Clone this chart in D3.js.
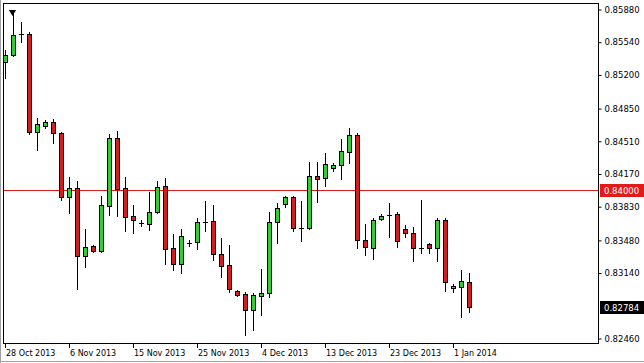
<!DOCTYPE html>
<html>
<head>
<meta charset="utf-8">
<script src="https://cdn.jsdelivr.net/npm/d3@7"></script>
<style>
html, body { margin: 0; padding: 0; background: #fff; }
svg { display: block; font-family: "DejaVu Sans", sans-serif; }
</style>
</head>
<body>
<div id="chart"></div>
<script>
// daily EUR/GBP-style candles
const dates = [
  '2013-10-28','2013-10-29','2013-10-30','2013-10-31','2013-11-01','2013-11-03','2013-11-04','2013-11-05',
  '2013-11-06','2013-11-07','2013-11-08','2013-11-10','2013-11-11','2013-11-12','2013-11-13','2013-11-14',
  '2013-11-15','2013-11-17','2013-11-18','2013-11-19','2013-11-20','2013-11-21','2013-11-22','2013-11-24',
  '2013-11-25','2013-11-26','2013-11-27','2013-11-28','2013-11-29','2013-12-01','2013-12-02','2013-12-03',
  '2013-12-04','2013-12-05','2013-12-06','2013-12-08','2013-12-09','2013-12-10','2013-12-11','2013-12-12',
  '2013-12-13','2013-12-15','2013-12-16','2013-12-17','2013-12-18','2013-12-19','2013-12-20','2013-12-22',
  '2013-12-23','2013-12-24','2013-12-25','2013-12-26','2013-12-27','2013-12-29','2013-12-30','2013-12-31',
  '2014-01-01','2014-01-02','2014-01-03'
];
const openP = [
  0.85329,0.85402,0.85620,0.85620,0.84601,0.84663,0.84705,0.84590,
  0.83925,0.84018,0.83311,0.83415,0.83363,0.83831,0.84538,0.84018,
  0.83727,0.83654,0.83644,0.83769,0.84039,0.83394,0.83228,0.83446,
  0.83457,0.83665,0.83675,0.83332,0.83218,0.82947,0.82916,0.82750,
  0.82895,0.82926,0.83665,0.83852,0.83925,0.83602,0.83602,0.84143,
  0.84122,0.84226,0.84258,0.84393,0.84570,0.83478,0.83394,0.83696,
  0.83738,0.83748,0.83592,0.83550,0.83394,0.83436,0.83394,0.83686,
  0.82978,0.82989,0.83041
];
const highP = [
  0.85454,0.85838,0.85745,0.85641,0.84746,0.84726,0.84736,0.84601,
  0.84133,0.84091,0.83592,0.83426,0.83935,0.84580,0.84611,0.84133,
  0.83842,0.83686,0.83977,0.84091,0.84122,0.83540,0.83592,0.83478,
  0.83706,0.83883,0.83842,0.83498,0.83426,0.82958,0.82937,0.82926,
  0.83176,0.83769,0.83862,0.83935,0.83935,0.83883,0.84289,0.84289,
  0.84382,0.84278,0.84528,0.84642,0.84590,0.83644,0.83706,0.83748,
  0.83862,0.83769,0.83634,0.83613,0.83894,0.83446,0.83706,0.83706,
  0.83020,0.83166,0.83134
];
const lowP = [
  0.85162,0.85395,0.85537,0.84580,0.84414,0.84642,0.84486,0.83894,
  0.83758,0.82968,0.83197,0.83353,0.83355,0.83738,0.83727,0.83571,
  0.83550,0.83623,0.83582,0.83758,0.83228,0.83166,0.83134,0.83415,
  0.83384,0.83571,0.83270,0.83093,0.82937,0.82895,0.82490,0.82542,
  0.82698,0.82885,0.83446,0.83821,0.83571,0.83467,0.83595,0.83873,
  0.84039,0.84195,0.84112,0.84278,0.83394,0.83322,0.83280,0.83686,
  0.83509,0.83405,0.83509,0.83259,0.83342,0.83342,0.83259,0.82947,
  0.82937,0.82677,0.82729
];
const closeP = [
  0.85402,0.85610,0.85615,0.84601,0.84684,0.84705,0.84590,0.83925,
  0.84018,0.83311,0.83405,0.83363,0.83842,0.84538,0.84008,0.83717,
  0.83686,0.83650,0.83769,0.84029,0.83384,0.83228,0.83519,0.83450,
  0.83665,0.83660,0.83332,0.83207,0.82968,0.82906,0.82750,0.82906,
  0.82926,0.83665,0.83810,0.83925,0.83602,0.83598,0.84143,0.84112,
  0.84268,0.84258,0.84403,0.84570,0.83478,0.83405,0.83686,0.83727,
  0.83734,0.83467,0.83550,0.83394,0.83390,0.83394,0.83686,0.83041,
  0.82999,0.83051,0.82784
];

const priceTicks = [0.85880, 0.85540, 0.85200, 0.84850, 0.84510, 0.84170, 0.83830, 0.83480, 0.83140, 0.82460];
const dateTicks = ['2013-10-28','2013-11-06','2013-11-15','2013-11-25','2013-12-04','2013-12-13','2013-12-23','2014-01-01'];
const dateTickLabels = ['28 Oct 2013','6 Nov 2013','15 Nov 2013','25 Nov 2013','4 Dec 2013','13 Dec 2013','23 Dec 2013','1 Jan 2014'];
const levelLine = 0.84000;

const width = 644,
      height = 363,
      frame = {left: 3, top: 3, right: 598, bottom: 343},
      upColor = '#32cd32',
      downColor = '#d01f1f';

const svg = d3.select('#chart').append('svg').attr('width', width).attr('height', height);

const x = d3.scaleBand().domain(dates).range([1, 1 + dates.length * 8]);
const y = d3.scaleLinear().domain([0.82460, 0.85880]).range([338, 9]);
const cx = d => Math.round(x(d) + x.bandwidth() / 2);
const py = v => Math.round(y(v));

const bars = dates.map((d, i) => ({d, o: openP[i], h: highP[i], l: lowP[i], c: closeP[i]}));

// outer grey edge
svg.append('line').attr('x1', 0.5).attr('x2', 0.5).attr('y1', 0).attr('y2', height).attr('stroke', '#a0a0a0');
svg.append('line').attr('x1', 0).attr('x2', width).attr('y1', 361.5).attr('y2', 361.5).attr('stroke', '#a0a0a0');

svg.append('clipPath').attr('id', 'plot')
  .append('rect')
  .attr('x', frame.left + 1).attr('y', frame.top + 1)
  .attr('width', frame.right - frame.left - 1).attr('height', frame.bottom - frame.top - 1);

const plot = svg.append('g').attr('clip-path', 'url(#plot)');

// 0.84000 level
plot.append('line')
  .attr('x1', frame.left).attr('x2', frame.right)
  .attr('y1', py(levelLine) + 0.5).attr('y2', py(levelLine) + 0.5)
  .attr('stroke', '#e01b1b');

const candle = plot.selectAll('g.candle')
  .data(bars)
  .enter()
  .append('g')
  .attr('class', 'candle');

candle.append('line')
  .attr('x1', b => cx(b.d) + 0.5).attr('x2', b => cx(b.d) + 0.5)
  .attr('y1', b => py(b.h)).attr('y2', b => py(b.l) + 1)
  .attr('stroke', '#000');

const isDoji = b => Math.abs(b.o - b.c) < 0.00008;

candle.filter(b => !isDoji(b)).append('rect')
  .attr('x', b => cx(b.d) - 1.5)
  .attr('y', b => py(Math.max(b.o, b.c)) + 0.5)
  .attr('width', 4)
  .attr('height', b => Math.max(1, py(Math.min(b.o, b.c)) - py(Math.max(b.o, b.c))))
  .attr('fill', b => b.c > b.o ? upColor : downColor)
  .attr('stroke', '#000');

candle.filter(isDoji).append('line')
  .attr('x1', b => cx(b.d) - 2).attr('x2', b => cx(b.d) + 3)
  .attr('y1', b => py(b.o) + 0.5).attr('y2', b => py(b.o) + 0.5)
  .attr('stroke', '#000');

// high marker over the top bar
const highBar = bars[d3.maxIndex(bars, b => b.h)];
svg.append('path')
  .attr('d', d3.symbol(d3.symbolTriangle, 22)())
  .attr('transform', `translate(${cx(highBar.d) - 0.5},${py(highBar.h) - 1}) rotate(180)`)
  .attr('fill', '#000');

// frame
svg.append('rect')
  .attr('x', frame.left + 0.5).attr('y', frame.top + 0.5)
  .attr('width', frame.right - frame.left).attr('height', frame.bottom - frame.top)
  .attr('fill', 'none').attr('stroke', '#000');

// price axis
const yAxis = svg.append('g')
  .attr('transform', `translate(${frame.right + 0.5},0.5)`)
  .call(d3.axisRight(y).tickValues(priceTicks).tickSize(3).tickPadding(3).tickFormat(d3.format('.5f')));
yAxis.select('.domain').remove();
yAxis.selectAll('text').attr('font-size', 8.5).attr('font-family', '"DejaVu Sans", sans-serif').attr('fill', '#000');

// price tags
const tags = [
  {v: levelLine, bg: '#e01b1b'},
  {v: closeP[closeP.length - 1], bg: '#000'}
];
const tag = svg.selectAll('g.tag').data(tags).enter().append('g').attr('class', 'tag');
tag.append('rect')
  .attr('x', frame.right + 2).attr('y', t => py(t.v) - 6)
  .attr('width', 44).attr('height', 13)
  .attr('fill', t => t.bg);
tag.append('text')
  .attr('x', frame.right + 6).attr('y', t => py(t.v) + 4)
  .attr('font-size', 8.5).attr('fill', '#fff')
  .text(t => d3.format('.5f')(t.v));

// date axis
const xt = svg.selectAll('g.xtick').data(dateTicks).enter().append('g').attr('class', 'xtick');
xt.append('line')
  .attr('x1', d => cx(d) + 0.5).attr('x2', d => cx(d) + 0.5)
  .attr('y1', frame.bottom).attr('y2', frame.bottom + 5)
  .attr('stroke', '#000');
xt.append('text')
  .attr('x', d => cx(d) + 1).attr('y', frame.bottom + 13)
  .attr('font-size', 8).attr('fill', '#000')
  .text((d, i) => dateTickLabels[i]);
</script>
</body>
</html>
